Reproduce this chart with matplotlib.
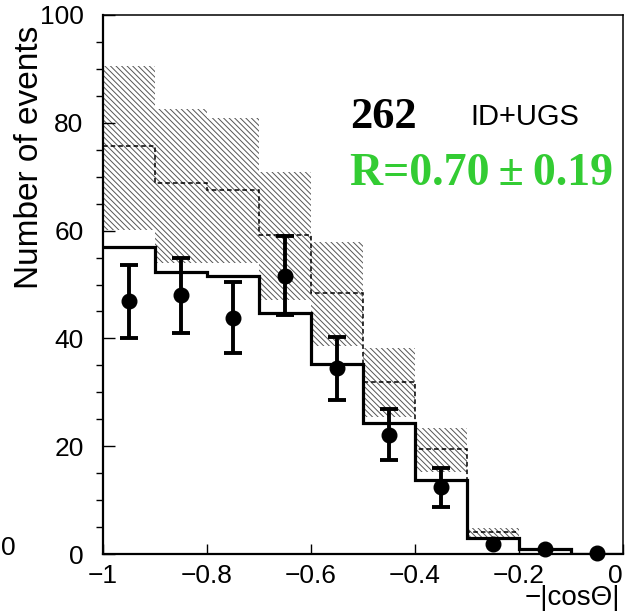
import numpy as np
import matplotlib
matplotlib.use('Agg')
import matplotlib.pyplot as plt
from matplotlib.ticker import MultipleLocator

#%% Data
edges      = [-1.0, -0.9, -0.8, -0.7, -0.6, -0.5, -0.4, -0.3, -0.2, -0.1, 0.0]
band_low   = [60.1, 54.0, 54.0, 47.1, 38.6, 25.4, 15.2, 3.2, 0.0, 0.0]
band_high  = [90.5, 82.6, 80.9, 70.9, 57.9, 38.2, 23.4, 4.8, 0.0, 0.0]
band_mid   = [75.7, 68.8, 67.5, 59.2, 48.4, 31.9, 19.5, 4.0]
hist_vals  = [57.0, 52.3, 51.6, 44.7, 35.3, 24.3, 13.7, 3.0, 0.9, 0.0]

x_data     = [-0.95, -0.85, -0.75, -0.65, -0.55, -0.45, -0.35, -0.25, -0.15, -0.05]
y_data     = [46.9, 48.0, 43.8, 51.6, 34.5, 22.1, 12.4, 1.8, 0.9, 0.2]
err_lo     = [6.8, 7.0, 6.5, 7.3, 5.9, 4.7, 3.7, 0.0, 0.0, 0.0]
err_hi     = [6.7, 6.9, 6.7, 7.4, 5.8, 4.8, 3.6, 0.0, 0.0, 0.0]

xticks      = [-1.0, -0.8, -0.6, -0.4, -0.2, 0.0]
xticklabels = ['\u22121', '\u22120.8', '\u22120.6', '\u22120.4', '\u22120.2', '0']
yticks      = [0, 20, 40, 60, 80, 100]

#%% Figure
plt.rcParams['font.family'] = ['Liberation Sans', 'DejaVu Sans']
plt.rcParams['hatch.linewidth'] = 0.7

fig = plt.figure(figsize=(6.26, 6.12), dpi=100)
ax  = fig.add_axes([103/626, 58/612, 520/626, 539/612])

# hatched band
edges_a = np.array(edges)
low     = np.array(band_low)
high    = np.array(band_high)
ax.bar(edges_a[:-1], high - low, bottom=low, width=np.diff(edges_a), align='edge',
       fill=False, hatch='\\\\\\\\\\\\', edgecolor='#555555', linewidth=0)

# dashed central line
ax.stairs(band_mid, edges[:len(band_mid)+1], baseline=None, color='k',
          linewidth=1.1, linestyle=(0, (3, 2)))

# solid histogram
ax.stairs(hist_vals, edges, baseline=None, color='k', linewidth=2.3)

# data points
xd  = np.array(x_data)
yd  = np.array(y_data)
elo = np.array(err_lo)
ehi = np.array(err_hi)
m   = (elo > 0) | (ehi > 0)
ax.errorbar(xd[m], yd[m], yerr=[elo[m], ehi[m]], fmt='none', ecolor='k',
            elinewidth=2.8, capsize=6.5, capthick=2.8, clip_on=False)
ax.plot(xd, yd, 'o', color='k', markersize=10.5, clip_on=False, zorder=5)

#%% Axes styling
ax.set_xlim(-1, 0)
ax.set_ylim(0, 100)
ax.set_xticks(xticks)
ax.set_xticklabels(xticklabels)
ax.get_xticklabels()[-1].set_horizontalalignment('right')
ax.set_yticks(yticks)
ax.yaxis.set_minor_locator(MultipleLocator(5))
ax.tick_params(axis='both', direction='in', labelsize=19, width=1.0)
ax.tick_params(axis='y', which='major', length=8.5, pad=14)
ax.tick_params(axis='y', which='minor', length=5, width=1.0)
ax.tick_params(axis='x', which='major', length=7, pad=7)
for side in ['left', 'bottom']:
    ax.spines[side].set_linewidth(1.6)
for side in ['top', 'right']:
    ax.spines[side].set_linewidth(1.1)

# annotations
ax.text(-0.525, 79.0, '262', family=['Liberation Serif', 'DejaVu Serif'],
        fontweight='bold', fontsize=32, color='k', clip_on=False)
ax.text(-0.294, 79.6, 'ID+UGS', fontsize=21, color='k', clip_on=False)
ax.text(-0.525, 68.5, 'R=0.70\u2009\u00b1\u20090.19', family=['Liberation Serif', 'DejaVu Serif'],
        fontweight='bold', fontsize=33, color='#33cc33', clip_on=False)

fig.text(30/626, 1 - 26/612, 'Number of events', rotation=90, ha='center', va='top',
         fontsize=24)
fig.text(620/626, 1 - 585/612, '\u2212|cos\u0398|', ha='right', va='top', fontsize=20)
fig.text(1/626, 1 - 548/612, '0', ha='left', va='center', fontsize=19)

fig.savefig('out.png', dpi=100)
